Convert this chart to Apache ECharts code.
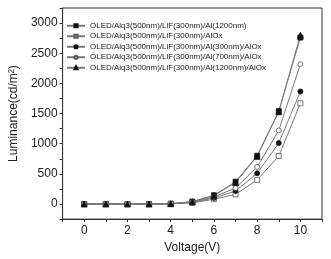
<!DOCTYPE html>
<html>
<head>
<meta charset="utf-8">
<script src="https://cdn.jsdelivr.net/npm/echarts@6/dist/echarts.min.js"></script>
<style>
  html, body { margin: 0; padding: 0; background: #fff; }
  #chart { width: 331px; height: 259px; }
</style>
</head>
<body>
<div id="chart"></div>
<script>
// voltage (V)
const voltage = [0, 1, 2, 3, 4, 5, 6, 7, 8, 9, 10]
const seriesNames = [
  'OLED/Alq3(500nm)/LiF(300nm)/Al(1200nm)',
  'OLED/Alq3(500nm)/LiF(300nm)/AlOx',
  'OLED/Alq3(500nm)/LiF(300nm)/Al(300nm)/AlOx',
  'OLED/Alq3(500nm)/LiF(300nm)/Al(700nm)/AlOx',
  'OLED/Alq3(500nm)/LiF(300nm)/Al(1200nm)/AlOx'
]
// luminance (cd/m2)
const alOnly = [0, 0, 0, 0, 5, 40, 145, 370, 800, 1540, 2760]
const alOx = [0, 0, 0, 0, 3, 20, 80, 160, 400, 795, 1670]
const al300AlOx = [0, 0, 0, 0, 4, 25, 100, 215, 510, 1010, 1865]
const al700AlOx = [0, 0, 0, 0, 4, 30, 120, 265, 615, 1220, 2320]
const al1200AlOx = [0, 0, 0, 0, 5, 38, 140, 355, 790, 1530, 2800]

const seriesData = [alOnly, alOx, al300AlOx, al700AlOx, al1200AlOx]
const symbols = ['rect', 'rect', 'circle', 'circle', 'triangle']
const filled = [true, false, true, false, true]

const chart = echarts.init(document.getElementById('chart'))
const font = 'Liberation Sans, Arial, sans-serif'

const option = {
  animation: false,
  textStyle: { fontFamily: font },
  grid: {
    left: 59, right: 9, top: 8, bottom: 35,
    show: true, borderColor: '#333', borderWidth: 1
  },
  legend: {
    orient: 'vertical',
    left: 61, top: 16,
    itemWidth: 18, itemHeight: 4, itemGap: 1,
    textStyle: { fontSize: 8, color: '#222', fontFamily: font, lineHeight: 9.5 },
    data: seriesNames
  },
  xAxis: {
    type: 'value',
    min: -1, max: 11, interval: 1,
    name: 'Voltage(V)',
    nameLocation: 'middle',
    nameGap: 22,
    nameTextStyle: { fontSize: 12, color: '#222' },
    axisLine: { onZero: false, lineStyle: { color: '#333' } },
    axisTick: { inside: false, length: 3, lineStyle: { color: '#333' } },
    axisLabel: {
      fontSize: 12, color: '#222', margin: 6,
      showMinLabel: true, showMaxLabel: true,
      formatter: function (v) {
        return (v >= 0 && v <= 10 && v % 2 === 0) ? String(v) : ''
      }
    },
    splitLine: { show: false }
  },
  yAxis: {
    type: 'value',
    min: -250, max: 3250, interval: 250,
    name: 'Luminance(cd/m²)',
    nameLocation: 'middle',
    nameGap: 42,
    nameTextStyle: { fontSize: 12, color: '#222' },
    axisLine: { show: true, onZero: false, lineStyle: { color: '#333' } },
    axisTick: { show: true, length: 3, lineStyle: { color: '#333' } },
    axisLabel: {
      fontSize: 12, color: '#222', margin: 5,
      formatter: function (v) {
        return (v >= 0 && v % 500 === 0 && v <= 3000) ? String(v) : ''
      }
    },
    splitLine: { show: false }
  },
  series: seriesNames.map(function (name, i) {
    return {
      name: name,
      type: 'line',
      data: voltage.map(function (x, j) { return [x, seriesData[i][j]] }),
      symbol: symbols[i],
      symbolSize: i === 4 ? 6 : 5,
      lineStyle: { color: '#777', width: 1 },
      itemStyle: {
        color: filled[i] ? '#111' : '#fff',
        borderColor: filled[i] ? '#111' : '#555',
        borderWidth: 0.8
      }
    }
  })
}
chart.setOption(option)
</script>
</body>
</html>
